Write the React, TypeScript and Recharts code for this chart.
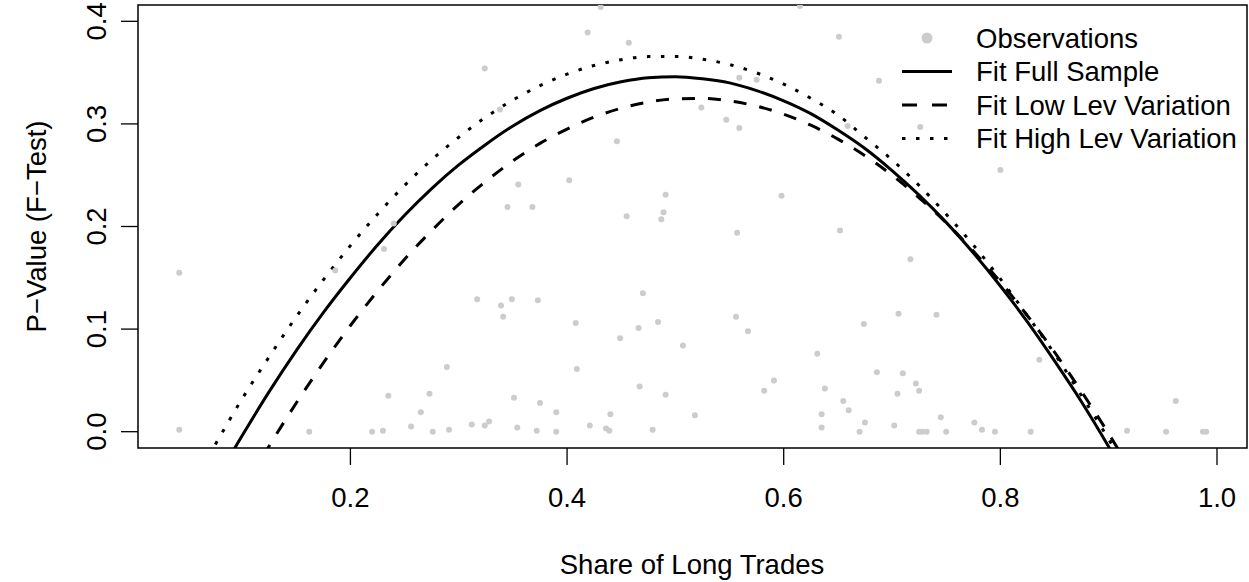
import React from 'react';
import { ComposedChart, Scatter, Line, XAxis, YAxis, ReferenceArea } from 'recharts';

// observations (share of long trades, p-value)
const obsX = [0.042, 0.042, 0.186, 0.162, 0.324, 0.338, 0.355, 0.345, 0.368, 0.402, 0.231, 0.317, 0.339, 0.349, 0.341, 0.373, 0.408, 0.409, 0.289, 0.235, 0.273, 0.265, 0.351, 0.375, 0.390, 0.220, 0.230, 0.256, 0.276, 0.291, 0.312, 0.324, 0.328, 0.354, 0.372, 0.390, 0.240, 0.431, 0.419, 0.457, 0.446, 0.524, 0.547, 0.559, 0.575, 0.559, 0.491, 0.489, 0.455, 0.487, 0.598, 0.557, 0.470, 0.484, 0.466, 0.449, 0.507, 0.556, 0.567, 0.467, 0.491, 0.591, 0.582, 0.440, 0.421, 0.436, 0.439, 0.479, 0.518, 0.615, 0.651, 0.688, 0.659, 0.726, 0.800, 0.652, 0.717, 0.706, 0.741, 0.674, 0.631, 0.686, 0.710, 0.722, 0.725, 0.705, 0.638, 0.655, 0.660, 0.635, 0.635, 0.675, 0.670, 0.702, 0.725, 0.728, 0.732, 0.745, 0.750, 0.776, 0.783, 0.795, 0.836, 0.962, 0.828, 0.917, 0.953, 0.987, 0.990];
const obsY = [0.155, 0.002, 0.157, 0.000, 0.354, 0.314, 0.241, 0.219, 0.219, 0.245, 0.178, 0.129, 0.123, 0.129, 0.112, 0.128, 0.106, 0.061, 0.063, 0.035, 0.037, 0.019, 0.033, 0.028, 0.019, 0.000, 0.001, 0.005, 0.000, 0.002, 0.007, 0.006, 0.010, 0.004, 0.001, 0.000, 0.203, 0.414, 0.389, 0.379, 0.283, 0.316, 0.304, 0.345, 0.343, 0.296, 0.231, 0.214, 0.210, 0.207, 0.230, 0.194, 0.135, 0.107, 0.101, 0.091, 0.084, 0.112, 0.098, 0.044, 0.036, 0.050, 0.040, 0.017, 0.006, 0.003, 0.001, 0.002, 0.016, 0.415, 0.385, 0.342, 0.298, 0.297, 0.255, 0.196, 0.168, 0.115, 0.114, 0.105, 0.076, 0.058, 0.057, 0.047, 0.040, 0.037, 0.042, 0.030, 0.021, 0.017, 0.004, 0.009, 0.000, 0.006, 0.000, 0.000, 0.000, 0.014, 0.000, 0.009, 0.002, 0.000, 0.070, 0.030, 0.000, 0.001, 0.000, 0.000, 0.000];

const fitX = [0.05, 0.075, 0.1, 0.125, 0.15, 0.175, 0.2, 0.225, 0.25, 0.275, 0.3, 0.325, 0.35, 0.375, 0.4, 0.425, 0.45, 0.475, 0.5, 0.525, 0.55, 0.575, 0.6, 0.625, 0.65, 0.675, 0.7, 0.725, 0.75, 0.775, 0.8, 0.825, 0.85, 0.875, 0.9, 0.925, 0.95];
const fitFull = [-0.098, -0.049, -0.004, 0.039, 0.079, 0.116, 0.150, 0.182, 0.211, 0.237, 0.260, 0.280, 0.298, 0.313, 0.325, 0.3345, 0.341, 0.345, 0.346, 0.344, 0.340, 0.3325, 0.3225, 0.310, 0.294, 0.276, 0.2545, 0.2306, 0.204, 0.1744, 0.142, 0.107, 0.069, 0.029, -0.0146, -0.061, -0.110];
const fitLow = [-0.157, -0.106, -0.059, -0.014, 0.028, 0.067, 0.1035, 0.137, 0.168, 0.196, 0.2215, 0.244, 0.264, 0.281, 0.295, 0.3066, 0.3153, 0.3213, 0.3244, 0.3248, 0.3224, 0.3173, 0.3094, 0.2987, 0.2852, 0.269, 0.250, 0.228, 0.2036, 0.176, 0.146, 0.113, 0.0776, 0.039, -0.002, -0.046, -0.093];
const fitHigh = [-0.060, -0.013, 0.032, 0.073, 0.112, 0.148, 0.1814, 0.212, 0.240, 0.265, 0.287, 0.3066, 0.3233, 0.3373, 0.3485, 0.357, 0.3626, 0.3656, 0.3657, 0.3631, 0.3578, 0.3497, 0.3388, 0.325, 0.3087, 0.287, 0.265, 0.240, 0.212, 0.182, 0.149, 0.113, 0.076, 0.035, -0.0073, -0.054, -0.104];

const xTicks = [0.2, 0.4, 0.6, 0.8, 1.0];
const xTickLabels = ['0.2', '0.4', '0.6', '0.8', '1.0'];
const yTicks = [0, 0.1, 0.2, 0.3, 0.4];
const yTickLabels = ['0.0', '0.1', '0.2', '0.3', '0.4'];

const legendLabels = ['Observations', 'Fit Full Sample', 'Fit Low Lev Variation', 'Fit High Lev Variation'];

const FONT = '"Liberation Sans", Arial, Helvetica, sans-serif';
const FS = 27.5;
const GREY = '#cccccc';
const DASH = '13 13';
const DOT = '3.5 10.5';

const obsRows = obsX.map((x, i) => ({ x, y: obsY[i] }));
const fitRows = fitX.map((x, i) => ({ x, full: fitFull[i], low: fitLow[i], high: fitHigh[i] }));

const XTick = (props: any) => {
  const { x, payload } = props;
  const label = xTickLabels[xTicks.indexOf(payload.value)];
  return (
    <text x={x} y={507} textAnchor="middle" fontSize={FS} fontFamily={FONT} fill="#000">
      {label}
    </text>
  );
};

const YTick = (props: any) => {
  const { y, payload } = props;
  const label = yTickLabels[yTicks.indexOf(payload.value)];
  return (
    <text x={0} y={0} transform={`translate(106, ${y}) rotate(-90)`} textAnchor="middle" fontSize={FS} fontFamily={FONT} fill="#000">
      {label}
    </text>
  );
};

const Dot = (props: any) => <circle cx={props.cx} cy={props.cy} r={3} fill={GREY} />;

function Overlay() {
  const rowY = [38, 71.5, 105, 138.5];
  return (
    <svg width={1249} height={582} style={{ position: 'absolute', left: 0, top: 0, pointerEvents: 'none' }}>
      <g fontFamily={FONT} fontSize={FS} fill="#000">
        <text x={692} y={574} textAnchor="middle">Share of Long Trades</text>
        <text x={0} y={0} transform="translate(46, 226.5) rotate(-90)" textAnchor="middle">P−Value (F−Test)</text>
        {legendLabels.map((t, i) => (
          <text key={t} x={976} y={rowY[i] + 9.5}>{t}</text>
        ))}
      </g>
      <circle cx={927} cy={rowY[0]} r={5.5} fill={GREY} />
      <line x1={902} x2={952} y1={rowY[1]} y2={rowY[1]} stroke="#000" strokeWidth={3} />
      <line x1={902} x2={952} y1={rowY[2]} y2={rowY[2]} stroke="#000" strokeWidth={3} strokeDasharray="15 15" />
      <line x1={902} x2={952} y1={rowY[3]} y2={rowY[3]} stroke="#000" strokeWidth={3} strokeDasharray={DOT} />
    </svg>
  );
}

export default function App() {
  return (
    <div style={{ position: 'absolute', left: 0, top: 0, width: 1249, height: 582, background: '#fff' }}>
      <ComposedChart width={1249} height={582} data={fitRows} margin={{ top: 5, right: 2, bottom: 0, left: 0 }}>
        <XAxis
          type="number"
          dataKey="x"
          domain={[0.0039, 1.0277]}
          allowDataOverflow
          ticks={xTicks}
          interval={0}
          tick={<XTick />}
          tickSize={17}
          tickLine={{ stroke: '#000', strokeWidth: 1.3 }}
          axisLine={false}
          height={134}
        />
        <YAxis
          type="number"
          dataKey="y"
          domain={[-0.0159, 0.4159]}
          allowDataOverflow
          ticks={yTicks}
          interval={0}
          tick={<YTick />}
          tickSize={17}
          tickLine={{ stroke: '#000', strokeWidth: 1.3 }}
          axisLine={false}
          width={138}
        />
        <Scatter data={obsRows} shape={<Dot />} isAnimationActive={false} />
        <Line type="monotone" dataKey="full" stroke="#000" strokeWidth={3} dot={false} activeDot={false} isAnimationActive={false} />
        <Line type="monotone" dataKey="low" stroke="#000" strokeWidth={3} strokeDasharray={DASH} dot={false} activeDot={false} isAnimationActive={false} />
        <Line type="monotone" dataKey="high" stroke="#000" strokeWidth={3} strokeDasharray={DOT} dot={false} activeDot={false} isAnimationActive={false} />
        <ReferenceArea x1={0.0039} x2={1.0277} y1={-0.0159} y2={0.4159} fill="none" stroke="#000" strokeWidth={1.5} ifOverflow="visible" />
      </ComposedChart>
      <Overlay />
    </div>
  );
}
